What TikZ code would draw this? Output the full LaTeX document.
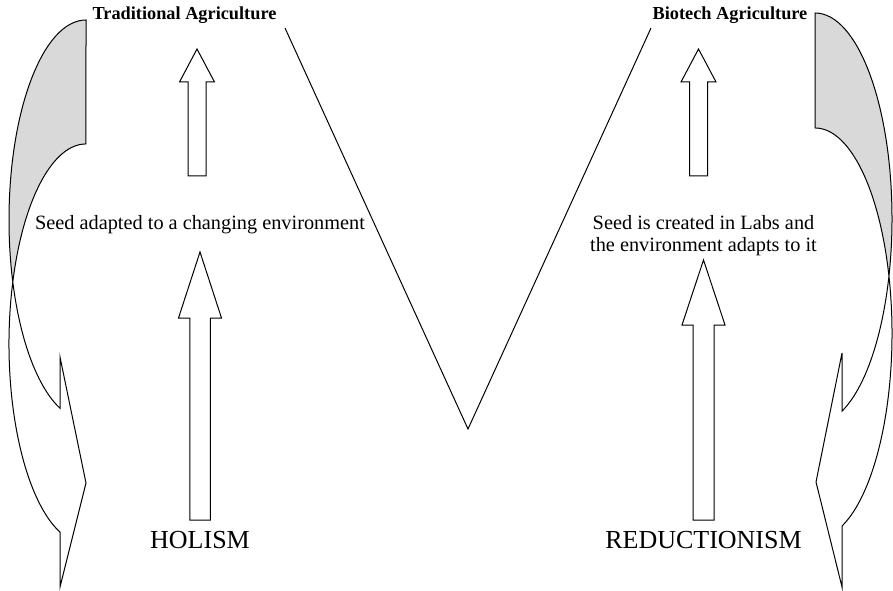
\documentclass[tikz,border=0pt]{standalone}
\usepackage{fontspec}
\setmainfont{Liberation Serif}
\usetikzlibrary{positioning}

% 竖直空心箭头：中心 x、底、头底、尖、杆半宽、头半宽
\newcommand{\blockarrow}[6]{%
  \draw[hollow] (#1-#5,#2) -- (#1-#5,#3) -- (#1-#6,#3) -- (#1,#4)
    -- (#1+#6,#3) -- (#1+#5,#3) -- (#1+#5,#2) -- cycle;}

\begin{document}
\begin{tikzpicture}[x=1pt, y=1pt, line width=1pt,
    hollow/.style={draw=black, fill=white},
    backside/.style={fill=gray!30},
    title/.style={font=\fontsize{18.3}{20}\selectfont\bfseries, anchor=base},
    note/.style={font=\fontsize{20.3}{22}\selectfont, anchor=base, align=center},
    bigword/.style={font=\fontsize{26}{28}\selectfont, anchor=base}]
    \useasboundingbox (0,0) rectangle (893,590);

    % --- 左侧：弯曲箭头 ---
    \def\wR{77}
    \begin{scope}
      \fill[backside] (86,570) arc[start angle=90, end angle=198.06, x radius=\wR, y radius=200]
        arc[start angle=161.94, end angle=90, x radius=\wR, y radius=200] -- cycle;
      \draw (86,570) arc[start angle=90, end angle=250.27, x radius=\wR, y radius=200]
        -- (60,233) -- (86,107) -- (60,3) -- (60,57.8)
        arc[start angle=250.27, end angle=90, x radius=\wR, y radius=200] -- cycle;
    \end{scope}

    % --- 右侧：弯曲箭头 ---
    \begin{scope}
      \fill[backside] (815,577) arc[start angle=90, end angle=-16.24, x radius=\wR, y radius=205.6]
        arc[start angle=16.24, end angle=90, x radius=\wR, y radius=205.6] -- cycle;
      \draw (815,577) arc[start angle=90, end angle=-69.47, x radius=\wR, y radius=205.6]
        -- (842,237) -- (816,108) -- (842,3) -- (842,63.9)
        arc[start angle=-69.47, end angle=90, x radius=\wR, y radius=205.6] -- cycle;
    \end{scope}

    % --- 中间的 V ---
    \draw (285,562) -- (468,161) -- (651,562);

    % --- 向上的空心箭头 ---
    \blockarrow{197}{414}{508}{541}{9}{17.5}
    \blockarrow{200}{70}{272}{338}{10.25}{21.5}
    \blockarrow{698.5}{414}{508}{541}{9}{17.5}
    \blockarrow{703.5}{70}{265}{330}{10.5}{21.5}

    % --- 文字 ---
    \node[title] (trad) at (184.5,570) {Traditional Agriculture};
    \node[title] (bio) at (730,570) {Biotech Agriculture};
    \node[note] (seedl) at (200,361) {Seed adapted to a changing environment};
    \node[note] (seedr) at (703.5,339) {Seed is created in Labs and\\the environment adapts to it};
    \node[bigword] (hol) at (200,42) {HOLISM};
    \node[bigword] (red) at (703.5,42) {REDUCTIONISM};

  \end{tikzpicture}
\end{document}
